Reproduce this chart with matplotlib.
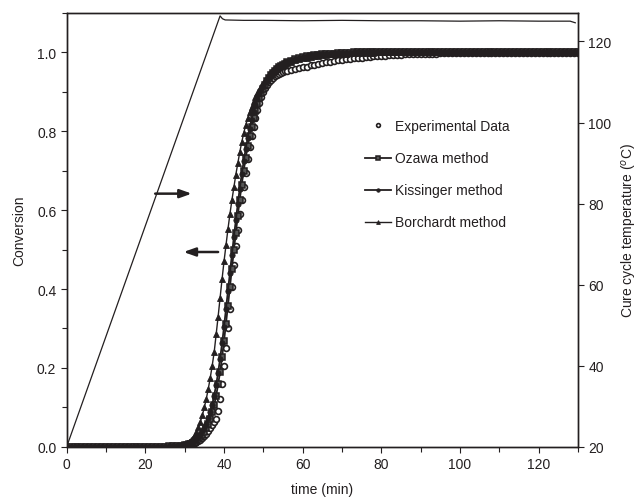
import numpy as np
import matplotlib
matplotlib.use('Agg')
import matplotlib.pyplot as plt
from matplotlib.ticker import MultipleLocator

plt.rcParams['font.family'] = ['Liberation Sans', 'DejaVu Sans']
plt.rcParams['font.size'] = 10

# sampling grid of the conversion data (min)
time = np.concatenate([np.arange(0, 30, 1.0), np.arange(30, 56.5, 0.5), np.arange(57, 131, 1.0)])

# conversion, experimental
exp_data = [
    0, 0, 0, 0, 0, 0, 0, 0, 0, 0, 0, 0, 0, 0, 0, 0, 0, 0, 0, 0,
    0, 0, 0, 0, 0, 0, 0, 0.001, 0.001, 0.002,
    0.003, 0.004, 0.005, 0.006, 0.008, 0.010, 0.012, 0.015, 0.018, 0.022,
    0.027, 0.033, 0.040, 0.047, 0.055, 0.062, 0.070, 0.092, 0.120, 0.160,
    0.205, 0.250, 0.300, 0.350, 0.405, 0.460, 0.510, 0.550, 0.590, 0.625,
    0.660, 0.695, 0.730, 0.760, 0.788, 0.812, 0.835, 0.855, 0.872, 0.887,
    0.900, 0.910, 0.918, 0.925, 0.931, 0.936, 0.940, 0.943, 0.946, 0.948,
    0.950, 0.952, 0.954,
    0.956, 0.958, 0.960, 0.962, 0.964, 0.967, 0.969, 0.971, 0.973, 0.975,
    0.977, 0.979, 0.981, 0.982, 0.983, 0.984, 0.985, 0.986, 0.987, 0.988,
    0.989, 0.990, 0.991, 0.992, 0.992, 0.993, 0.993, 0.994, 0.994, 0.995,
    0.995, 0.996, 0.996, 0.996, 0.997, 0.997, 0.997, 0.997, 0.998, 0.998,
    0.998, 0.998, 0.998, 0.998,
    0.999, 0.999, 0.999, 0.999, 0.999, 0.999, 0.999, 0.999, 0.999, 0.999,
    0.999, 0.999, 0.999, 0.999, 0.999, 0.999, 0.999, 0.999, 0.999, 0.999,
    0.999, 0.999, 0.999, 0.999, 0.999, 0.999, 0.999, 0.999, 0.999, 0.999,
]

ozawa = [
    0, 0, 0, 0, 0, 0, 0, 0, 0, 0, 0, 0, 0, 0, 0, 0, 0, 0, 0, 0,
    0, 0, 0, 0, 0, 0, 0.001, 0.001, 0.002, 0.003,
    0.004, 0.005, 0.006, 0.008, 0.010, 0.013, 0.016, 0.020, 0.025, 0.031,
    0.038, 0.047, 0.058, 0.071, 0.087, 0.106, 0.130, 0.158, 0.190, 0.227,
    0.268, 0.312, 0.358, 0.405, 0.452, 0.498, 0.543, 0.586, 0.627, 0.665,
    0.700, 0.732, 0.762, 0.788, 0.812, 0.833, 0.852, 0.869, 0.884, 0.897,
    0.908, 0.918, 0.927, 0.935, 0.942, 0.948, 0.953, 0.958, 0.962, 0.966,
    0.969, 0.972, 0.975,
    0.979, 0.983, 0.986, 0.988, 0.990, 0.992, 0.993, 0.994, 0.995, 0.996,
    0.997, 0.997, 0.998, 0.998, 0.999, 0.999,
    1, 1, 1, 1, 1, 1, 1, 1, 1, 1, 1, 1, 1, 1, 1, 1, 1, 1, 1, 1,
    1, 1, 1, 1, 1, 1, 1, 1, 1, 1, 1, 1, 1, 1, 1, 1, 1, 1, 1, 1,
    1, 1, 1, 1, 1, 1, 1, 1, 1, 1, 1, 1, 1, 1, 1, 1, 1, 1,
]

kissinger = [
    0, 0, 0, 0, 0, 0, 0, 0, 0, 0, 0, 0, 0, 0, 0, 0, 0, 0, 0, 0,
    0, 0, 0, 0, 0, 0, 0.001, 0.002, 0.003, 0.004,
    0.005, 0.006, 0.008, 0.010, 0.013, 0.016, 0.020, 0.025, 0.031, 0.039,
    0.048, 0.059, 0.072, 0.088, 0.107, 0.130, 0.157, 0.188, 0.223, 0.262,
    0.304, 0.349, 0.395, 0.441, 0.487, 0.532, 0.575, 0.616, 0.655, 0.691,
    0.724, 0.755, 0.782, 0.807, 0.829, 0.849, 0.866, 0.881, 0.895, 0.907,
    0.917, 0.926, 0.934, 0.941, 0.947, 0.953, 0.958, 0.962, 0.966, 0.969,
    0.972, 0.975, 0.977,
    0.981, 0.984, 0.987, 0.989, 0.991, 0.993, 0.994, 0.995, 0.996, 0.997,
    0.997, 0.998, 0.998, 0.999, 0.999, 0.999,
    1, 1, 1, 1, 1, 1, 1, 1, 1, 1, 1, 1, 1, 1, 1, 1, 1, 1, 1, 1,
    1, 1, 1, 1, 1, 1, 1, 1, 1, 1, 1, 1, 1, 1, 1, 1, 1, 1, 1, 1,
    1, 1, 1, 1, 1, 1, 1, 1, 1, 1, 1, 1, 1, 1, 1, 1, 1, 1,
]

borchardt = [
    0, 0, 0, 0, 0, 0, 0, 0, 0, 0, 0, 0, 0, 0, 0, 0, 0, 0, 0, 0,
    0, 0, 0, 0, 0, 0.001, 0.001, 0.002, 0.003, 0.005,
    0.008, 0.010, 0.013, 0.017, 0.022, 0.029, 0.038, 0.050, 0.064, 0.080,
    0.100, 0.122, 0.147, 0.175, 0.206, 0.240, 0.285, 0.330, 0.378, 0.425,
    0.470, 0.512, 0.552, 0.590, 0.625, 0.658, 0.690, 0.719, 0.747, 0.772,
    0.795, 0.815, 0.833, 0.849, 0.863, 0.876, 0.887, 0.897, 0.906, 0.914,
    0.921, 0.928, 0.934, 0.940, 0.945, 0.950, 0.954, 0.958, 0.962, 0.965,
    0.968, 0.971, 0.973,
    0.977, 0.980, 0.983, 0.985, 0.987, 0.989, 0.990, 0.992, 0.993, 0.994,
    0.995, 0.996, 0.996, 0.997, 0.997, 0.998, 0.998, 0.998, 0.999, 0.999,
    0.999, 0.999,
    1, 1, 1, 1, 1, 1, 1, 1, 1, 1, 1, 1, 1, 1, 1, 1, 1, 1, 1, 1,
    1, 1, 1, 1, 1, 1, 1, 1, 1, 1, 1, 1, 1, 1, 1, 1, 1, 1, 1, 1,
    1, 1, 1, 1, 1, 1, 1, 1, 1, 1, 1, 1,
]

# cure cycle temperature
temp_time = [0, 39.0, 39.6, 40.3, 45, 50, 60, 70, 80, 90, 100, 110, 120, 128, 129.3]
temp_val = [20, 126.3, 125.6, 125.3, 125.2, 125.2, 125.1, 125.2, 125.1, 125.1, 125.0, 125.1, 125.0, 125.0, 124.6]

# arrows: (start time, end time, conversion level)
arrow_temp = (22.5, 31.8, 0.642)
arrow_conv = (38.5, 29.7, 0.494)

ink = '#231f20'

fig = plt.figure(figsize=(6.38, 5.02), dpi=100)
ax = fig.add_axes([0.1045, 0.108, 0.8015, 0.864])
ax2 = ax.twinx()

ax.plot(time, exp_data, linestyle='none', marker='o', ms=4.2, mfc='white', mec=ink, mew=1.2,
        label='Experimental Data', zorder=3)
ax.plot(time, ozawa, '-', color=ink, lw=1.3, marker='s', ms=4.0, mfc='#555555', mec=ink, mew=1.1,
        label='Ozawa method', zorder=4)
ax.plot(time, kissinger, '-', color=ink, lw=1.3, marker='o', ms=3.8, mfc=ink, mec=ink, mew=0.6,
        label='Kissinger method', zorder=5)
ax.plot(time, borchardt, '-', color=ink, lw=1.0, marker='^', ms=4.2, mfc=ink, mec=ink, mew=0.6,
        label='Borchardt method', zorder=6)

ax2.plot(temp_time, temp_val, '-', color=ink, lw=0.9)

ax.annotate('', xy=(arrow_temp[1], arrow_temp[2]), xytext=(arrow_temp[0], arrow_temp[2]),
            arrowprops=dict(arrowstyle='-|>,head_length=0.7,head_width=0.25', lw=1.8, color=ink,
                            shrinkA=0, shrinkB=0))
ax.annotate('', xy=(arrow_conv[1], arrow_conv[2]), xytext=(arrow_conv[0], arrow_conv[2]),
            arrowprops=dict(arrowstyle='-|>,head_length=0.7,head_width=0.25', lw=1.8, color=ink,
                            shrinkA=0, shrinkB=0))

ax.set_xlim(0, 130)
ax.set_ylim(0, 1.1)
ax2.set_ylim(20, 127)

ax.xaxis.set_major_locator(MultipleLocator(20))
ax.xaxis.set_minor_locator(MultipleLocator(10))
ax.yaxis.set_major_locator(MultipleLocator(0.2))
ax.yaxis.set_minor_locator(MultipleLocator(0.1))
ax.yaxis.set_major_formatter(plt.FormatStrFormatter('%.1f'))
ax2.yaxis.set_major_locator(MultipleLocator(20))

ax.tick_params(which='both', direction='out', color=ink, labelcolor=ink)
ax.tick_params(which='major', length=4, width=0.8)
ax.tick_params(which='minor', length=3.5, width=0.8)
ax2.tick_params(direction='out', length=4, width=0.8, color=ink, labelcolor=ink)

for a in (ax, ax2):
    for s in a.spines.values():
        s.set_linewidth(1.0)
        s.set_color(ink)

ax.set_xlabel('time (min)', color=ink, labelpad=8)
ax.set_ylabel('Conversion', color=ink, labelpad=8)
ax2.set_ylabel('Cure cycle temperature ($^{o}$C)', color=ink, labelpad=6)

leg = ax.legend(loc='center left', bbox_to_anchor=(0.583, 0.628), frameon=False,
                borderpad=0, borderaxespad=0, handlelength=1.9, handletextpad=0.25,
                labelspacing=1.3, numpoints=1, markerscale=0.65)
for t in leg.get_texts():
    t.set_color(ink)

fig.savefig('out.png', dpi=100)
